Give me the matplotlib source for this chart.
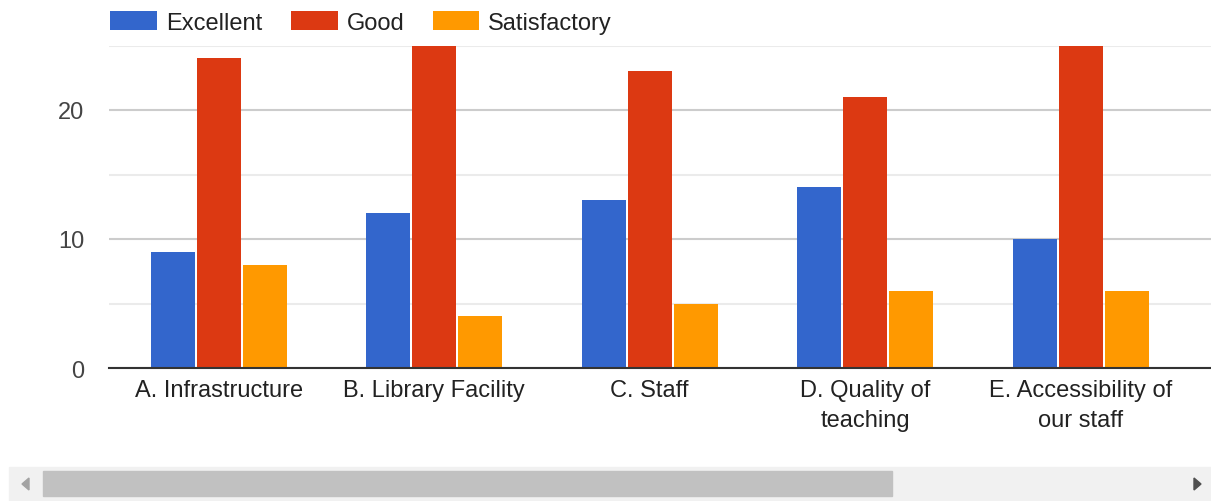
import matplotlib
matplotlib.use("Agg")
import matplotlib.pyplot as plt
import numpy as np
from matplotlib.patches import Rectangle, Polygon

categories = ["A. Infrastructure", "B. Library Facility", "C. Staff",
              "D. Quality of\nteaching", "E. Accessibility of\nour staff"]
series_names = ["Excellent", "Good", "Satisfactory"]
excellent = [9, 12, 13, 14, 10]
good = [24, 25, 23, 21, 25]
satisfactory = [8, 4, 5, 6, 6]
colors = ["#3366CC", "#DC3912", "#FF9900"]
y_major = [0, 10, 20]
y_minor = [5, 15, 25]

plt.rcParams['font.family'] = ['Liberation Sans', 'DejaVu Sans']

W, H = 1211, 502
fig = plt.figure(figsize=(W / 100, H / 100), dpi=100)
ax_left, ax_right = 109 / W, 1.0
ax_bottom, ax_top = (H - 369) / H, (H - 46.5) / H
ax = fig.add_axes([ax_left, ax_bottom, ax_right - ax_left, ax_top - ax_bottom])

x = np.arange(len(categories))
unit = 215.5
step = 46 / unit
bw = 44 / unit
for i, (vals, name) in enumerate(zip([excellent, good, satisfactory], series_names)):
    ax.bar(x + (i - 1) * step, vals, width=bw, color=colors[i], label=name, zorder=3)

x0 = -0.5 - 2 / unit
ax.set_xlim(x0, x0 + (W - 109) / unit)
ax.set_ylim(0, 25)
ax.set_yticks(y_major)
ax.set_yticks(y_minor, minor=True)
ax.yaxis.grid(True, which='major', color='#CCCCCC', linewidth=1.5, zorder=0)
ax.yaxis.grid(True, which='minor', color='#EBEBEB', linewidth=1.5, zorder=0)
ax.set_xticks(x)
ax.set_xticklabels(categories, fontsize=17, color='#222222', linespacing=1.45)
ax.tick_params(axis='x', length=0, pad=8)
ax.tick_params(axis='y', which='both', length=0, pad=18, labelsize=17, labelcolor='#444444')
for s in ['top', 'right', 'left']:
    ax.spines[s].set_visible(False)
ax.spines['bottom'].set_color('#333333')
ax.spines['bottom'].set_linewidth(1.5)
ax.spines['bottom'].set_zorder(4)

leg = fig.legend(loc='upper left', bbox_to_anchor=(101 / W, 1 - 3 / H), ncol=3, frameon=False,
                 fontsize=17, handlelength=1.98, handleheight=0.85, handletextpad=0.38,
                 columnspacing=1.2, borderaxespad=0.0)
for t in leg.get_texts():
    t.set_color('#222222')

# scrollbar decoration
def fx(px):
    return px / W

def fy(py):
    return (H - py) / H

fig.patches.append(Rectangle((fx(9), fy(502)), fx(W) - fx(9), fy(468) - fy(502),
                             transform=fig.transFigure, color='#F1F1F1', zorder=0))
fig.patches.append(Rectangle((fx(43), fy(497)), fx(892) - fx(43), fy(472) - fy(497),
                             transform=fig.transFigure, color='#C1C1C1', zorder=1))
fig.patches.append(Polygon([(fx(29), fy(479)), (fx(29), fy(491)), (fx(22), fy(485))],
                           closed=True, transform=fig.transFigure, color='#A3A3A3', zorder=1))
fig.patches.append(Polygon([(fx(1194), fy(479)), (fx(1194), fy(491)), (fx(1201), fy(485))],
                           closed=True, transform=fig.transFigure, color='#505050', zorder=1))

fig.savefig("out.png", dpi=100)
